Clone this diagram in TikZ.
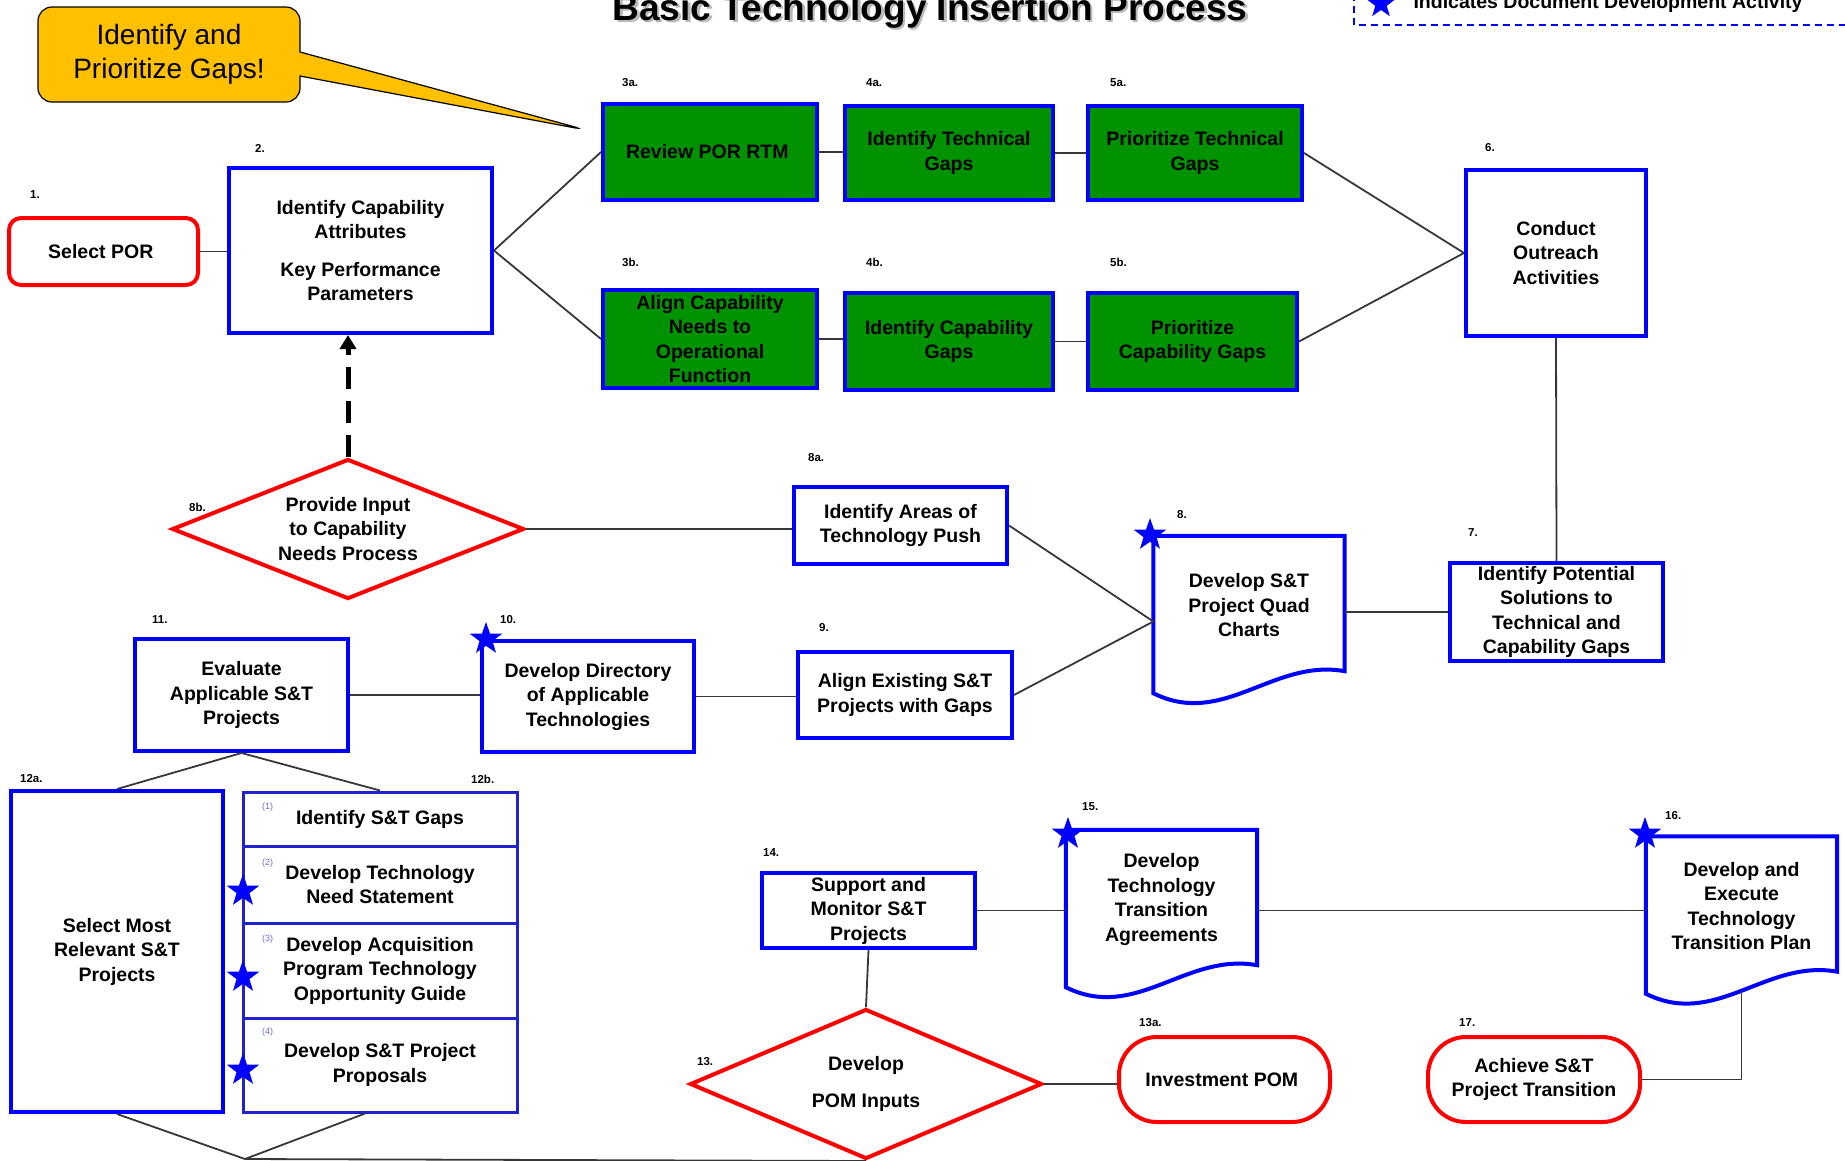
\documentclass[tikz,border=0pt]{standalone}
\usepackage{fontspec}
\setmainfont{Liberation Sans}
\usepackage{tikz}
\usetikzlibrary{calc,shapes,arrows.meta}
\definecolor{gapgreen}{RGB}{0,146,0}
\definecolor{calloutgold}{RGB}{255,192,0}
\definecolor{linkgray}{RGB}{55,55,55}
\definecolor{subblue}{RGB}{35,35,205}
\definecolor{tagblue}{RGB}{110,110,220}
\newcommand{\boxfont}{\fontsize{19.5}{24.5}\selectfont\bfseries}
\newcommand{\numfont}{\fontsize{11.5}{12}\selectfont\bfseries}
\newcommand{\titlefont}{\fontsize{37}{40}\selectfont\bfseries}
% document outline with wavy bottom, drawn round a docbox node
\newcommand{\docshape}[1]{%
  \draw[docline] ([yshift=-18pt]#1.south west) -- (#1.north west) -- (#1.north east)
    -- ([yshift=4pt]#1.south east)
    .. controls ([xshift=120pt,yshift=17pt]#1.south west)
    and ([xshift=70pt,yshift=-53pt]#1.south west) .. ([yshift=-18pt]#1.south west) -- cycle;}
\tikzset{
  stepbox/.style={draw=blue,line width=4pt,fill=white,align=center,font=\boxfont,inner sep=0pt},
  gapbox/.style={stepbox,fill=gapgreen},
  subbox/.style={stepbox,draw=subblue,line width=3pt,minimum width=274pt},
  endbox/.style={draw=red,line width=4pt,fill=white,align=center,font=\boxfont,inner sep=0pt,rounded corners=38pt,minimum width=211pt,minimum height=85pt},
  decision/.style={diamond,shape aspect=2.5,draw=red,line width=4pt,fill=white,align=center,font=\boxfont,inner sep=0pt,minimum width=352pt},
  docbox/.style={align=center,font=\boxfont,inner sep=0pt,minimum width=191pt,minimum height=139pt},
  docline/.style={draw=blue,line width=4pt,line join=miter},
  numlabel/.style={anchor=west,font=\numfont,inner sep=0pt},
  subnum/.style={anchor=west,font=\fontsize{9}{10}\selectfont,text=tagblue,inner sep=0pt},
  docstar/.style={star,star points=5,star point ratio=2.5,fill=blue,draw=none,minimum size=34pt,inner sep=0pt},
  link/.style={draw=linkgray,line width=1.8pt},
}

\begin{document}
\begin{tikzpicture}[x=1pt,y=-1pt]
    \useasboundingbox (0,0) rectangle (1845,1160);

    % title and legend
    \node (titleshadow) at (932.5,22.5) [anchor=base,text=gray!55,font=\titlefont]{Basic Technology Insertion Process};
    \node (title) at (930,20) [anchor=base,font=\titlefont]{Basic Technology Insertion Process};
    \draw[blue,line width=1.5pt,dash pattern=on 7pt off 5pt] (1354,-30) rectangle (1880,25);
    \node (legstar) at (1381,4) [docstar,minimum size=30pt]{};
    \node (legend) at (1410,8) [anchor=base west,font=\boxfont]{Indicates Document Development Activity};

    \node (gapcall) at (169,54.5) [rectangle callout,fill=calloutgold,draw=black,line width=1.2pt,rounded corners=14pt,minimum width=262pt,minimum height=95pt,callout absolute pointer={(586,130)},callout pointer width=24pt,align=center,font=\fontsize{28}{34}\selectfont]{
      Identify and\\Prioritize Gaps!
    };

    % top rows
    \node (sel) at (103.5,251.5) [endbox,rounded corners=12pt,minimum width=189pt,minimum height=67pt]{
      Select POR
    };
    \node (cap) at (360.5,250.5) [stepbox,minimum width=263pt,minimum height=165pt]{
      Identify Capability\\Attributes\\[13pt]Key Performance\\Parameters
    };
    \node (rev) at (710,152) [gapbox,minimum width=214pt,minimum height=96pt]{
      Review POR RTM
    };
    \node (itg) at (949,153) [gapbox,minimum width=208pt,minimum height=94pt]{
      Identify Technical\\Gaps
    };
    \node (ptg) at (1195,153) [gapbox,minimum width=214pt,minimum height=94pt]{
      Prioritize Technical\\Gaps
    };
    \node (aln) at (710,339) [gapbox,minimum width=214pt,minimum height=98pt]{
      Align Capability\\Needs to\\Operational\\Function
    };
    \node (icg) at (949,341.5) [gapbox,minimum width=208pt,minimum height=97pt]{
      Identify Capability\\Gaps
    };
    \node (pcg) at (1192.5,341.5) [gapbox,minimum width=209pt,minimum height=97pt]{
      Prioritize\\Capability Gaps
    };
    \node (out) at (1556,253) [stepbox,minimum width=180pt,minimum height=166pt]{
      Conduct\\Outreach\\Activities
    };

    % middle rows
    \node (pot) at (1556.5,612) [stepbox,minimum width=213pt,minimum height=98pt]{
      Identify Potential\\Solutions to\\Technical and\\Capability Gaps
    };
    \node (quad) at (1249,605.5) [docbox]{
      Develop S\&T\\Project Quad\\Charts
    };
    \docshape{quad}
    \node (push) at (900.5,525.5) [stepbox,minimum width=213pt,minimum height=77pt]{
      Identify Areas of\\Technology Push
    };
    \node (ali) at (905,695) [stepbox,minimum width=214pt,minimum height=86pt]{
      Align Existing S\&T\\Projects with Gaps
    };
    \node (prov) at (348,529) [decision,minimum height=140pt]{
      Provide Input\\to Capability\\Needs Process
    };
    \node (dir) at (588,696.5) [stepbox,minimum width=212pt,minimum height=111pt]{
      Develop Directory\\of Applicable\\Technologies
    };
    \node (eva) at (241.5,695) [stepbox,minimum width=213pt,minimum height=112pt]{
      Evaluate\\Applicable S\&T\\Projects
    };

    % bottom rows
    \node (rel) at (117,951.5) [stepbox,minimum width=212pt,minimum height=321pt]{
      Select Most\\Relevant S\&T\\Projects
    };
    \node (g1) at (380,819) [subbox,minimum height=54pt]{Identify S\&T Gaps};
    \node (g2) at (380,884.5) [subbox,minimum height=77pt]{Develop Technology\\Need Statement};
    \node (g3) at (380,970.5) [subbox,minimum height=95pt]{Develop Acquisition\\Program Technology\\Opportunity Guide};
    \node (g4) at (380,1065) [subbox,minimum height=94pt]{Develop S\&T Project\\Proposals};
    \node (sup) at (868.5,910.5) [stepbox,minimum width=213pt,minimum height=75pt]{
      Support and\\Monitor S\&T\\Projects
    };
    \node (pom) at (866,1084) [decision,minimum height=150pt]{
      Develop\\[12pt]POM Inputs
    };
    \node (inv) at (1224.5,1079.5) [endbox]{
      Investment POM
    };
    \node (tta) at (1161.5,899.5) [docbox]{
      Develop\\Technology\\Transition\\Agreements
    };
    \docshape{tta}
    \node (dtp) at (1741.5,906) [docbox]{
      Develop and\\Execute\\Technology\\Transition Plan
    };
    \docshape{dtp}
    \node (ach) at (1534,1079.5) [endbox,minimum width=212pt]{
      Achieve S\&T\\Project Transition
    };
    \coordinate (join) at (245,1159);

    % connectors
    \draw[link] (sel.east) -- (sel.east -| cap.west);
    \draw[link] (cap.east) -- (rev.west);
    \draw[link] (cap.east) -- (aln.west);
    \draw[link] (rev.east) -- (rev.east -| itg.west);
    \draw[link] (itg.east) -- (itg.east -| ptg.west);
    \draw[link] (aln.east) -- (aln.east -| icg.west);
    \draw[link] (icg.east) -- (icg.east -| pcg.west);
    \draw[link] (ptg.east) -- (out.west);
    \draw[link] (pcg.east) -- (out.west);
    \draw[link] (out.south) -- (pot.north);
    \draw[link] (quad.east |- pot.west) -- (pot.west);
    \draw[link] (push.east) -- ([yshift=-16pt]quad.west);
    \draw[link] (ali.east) -- ([yshift=-16pt]quad.west);
    \draw[link] (prov.east) -- (prov.east -| push.west);
    \draw[black,line width=5pt,dash pattern=on 22pt off 12pt,-{Triangle[length=14pt,width=16pt]}] (prov.north) -- (prov.north |- cap.south);
    \draw[link] (eva.east) -- (eva.east -| dir.west);
    \draw[link] (dir.east) -- (dir.east -| ali.west);
    \draw[link] (eva.south) -- (rel.north);
    \draw[link] (eva.south) -- (g1.north);
    \draw[link] (rel.south) -- (join);
    \draw[link] ([xshift=-15pt]g4.south) -- (join);
    \draw[link] (join) -- (pom.south);
    \draw[link] (sup.south) -- (pom.north);
    \draw[link] (pom.east) -- (pom.east -| inv.west);
    \draw[link] (sup.east) -- (sup.east -| tta.west);
    \draw[link] (sup.east -| tta.east) -- (sup.east -| dtp.west);
    \draw[link] ([yshift=-15pt]dtp.south) |- (ach.east);

    % document stars
    \node (st8) at (1150,535) [docstar]{};
    \node (st10) at (486,639) [docstar]{};
    \node (st15) at (1068,834) [docstar]{};
    \node (st16) at (1645,834) [docstar]{};
    \node (st12b) at (243,891) [docstar]{};
    \node (st12c) at (243,977) [docstar]{};
    \node (st12d) at (243,1070) [docstar]{};

    % step numbers
    \node (n1) at (30,195) [numlabel]{1.};
    \node (n2) at (255,148) [numlabel]{2.};
    \node (n3a) at (622,83) [numlabel]{3a.};
    \node (n4a) at (866,83) [numlabel]{4a.};
    \node (n5a) at (1110,83) [numlabel]{5a.};
    \node (n3b) at (622,262) [numlabel]{3b.};
    \node (n4b) at (866,262) [numlabel]{4b.};
    \node (n5b) at (1110,262) [numlabel]{5b.};
    \node (n6) at (1485,148) [numlabel]{6.};
    \node (n7) at (1468,533) [numlabel]{7.};
    \node (n8) at (1177,515) [numlabel]{8.};
    \node (n8a) at (808,458) [numlabel]{8a.};
    \node (n8b) at (189,507) [numlabel]{8b.};
    \node (n9) at (819,628) [numlabel]{9.};
    \node (n10) at (500,620) [numlabel]{10.};
    \node (n11) at (152,620) [numlabel]{11.};
    \node (n12a) at (20,779) [numlabel]{12a.};
    \node (n12b) at (471,779) [numlabel]{12b.};
    \node (n13) at (697,1062) [numlabel]{13.};
    \node (n13a) at (1139,1023) [numlabel]{13a.};
    \node (n14) at (763,853) [numlabel]{14.};
    \node (n15) at (1082,807) [numlabel]{15.};
    \node (n16) at (1665,816) [numlabel]{16.};
    \node (n17) at (1459,1023) [numlabel]{17.};
    \node (t1) at (262,807) [subnum]{(1)};
    \node (t2) at (262,863) [subnum]{(2)};
    \node (t3) at (262,939) [subnum]{(3)};
    \node (t4) at (262,1032) [subnum]{(4)};
\end{tikzpicture}
\end{document}
